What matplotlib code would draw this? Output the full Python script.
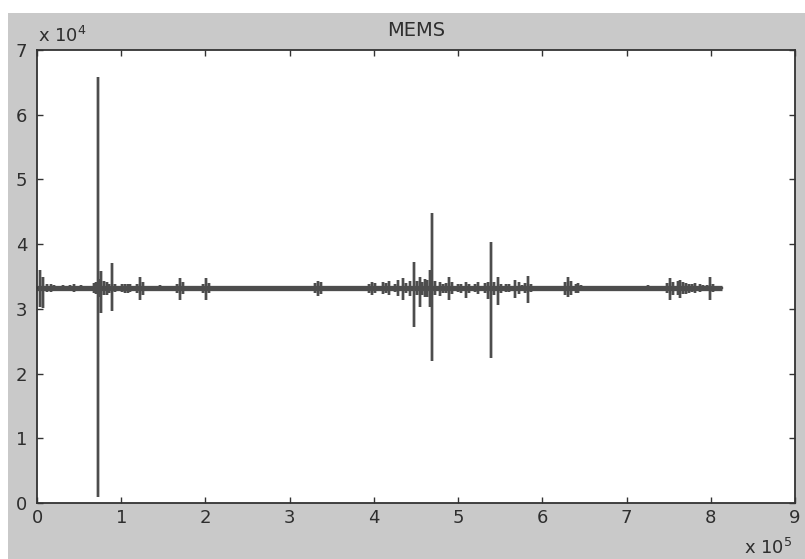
import matplotlib
matplotlib.use("Agg")
import matplotlib.pyplot as plt
from matplotlib.patches import Rectangle

plt.rcParams['font.family'] = ['DejaVu Sans']

# MEMS sensor trace: resting level plus short bursts (position, peak, trough)
base_level = 33200
trace_end = 813300
burst_pos = [3600, 7100, 16600, 27300, 39200, 48700, 67700, 72400, 76000, 83100,
             89100, 104500, 110400, 122300, 146000, 169800, 200700, 241000, 259000,
             333700, 397800, 414400, 425000, 434600, 443000, 447600, 454800, 460700,
             466600, 469000, 478500, 489200, 499900, 509400, 523600, 535500, 539100,
             547400, 556900, 567600, 575900, 583000, 630500, 642400, 653000, 725500,
             751600, 763500, 770600, 777700, 790800, 799100]
burst_high = [36000, 35000, 33800, 33600, 33700, 33600, 34000, 65800, 35800, 34200,
              37100, 33900, 33800, 34900, 33700, 34800, 34800, 33600, 33600,
              34300, 34200, 34000, 33900, 34800, 34300, 37200, 34900, 34600,
              36000, 44800, 34200, 34900, 33900, 34100, 34100, 34100, 40300,
              35000, 33800, 34400, 33700, 35100, 35000, 34000, 33400, 33700,
              34800, 34400, 34000, 33800, 33700, 34900]
burst_low = [30300, 30100, 32600, 32900, 32800, 32900, 32500, 900, 29400, 32200,
             29700, 32500, 32600, 31400, 32800, 31400, 31400, 33000, 33000,
             32000, 32100, 32400, 32600, 31400, 32000, 27200, 30300, 31800,
             30300, 22000, 32000, 31400, 32600, 31700, 32300, 31600, 22400,
             30600, 32600, 31700, 32800, 30900, 31800, 32400, 33000, 32800,
             31400, 31700, 32300, 32600, 32700, 31400]

# smaller ripples surrounding the bursts
ripple_pos = [12000, 20500, 31000, 43500, 52000, 70000, 74500, 79500, 86000, 93000,
              101000, 107500, 119000, 125500, 166500, 173000, 197500, 204000,
              330500, 337000, 394500, 401000, 411000, 418000, 428500, 438000,
              451000, 457500, 463500, 472000, 482000, 486000, 493000, 503000,
              513000, 520000, 532000, 543000, 551000, 560000, 572000, 580000,
              587000, 627500, 633500, 639500, 646000, 748500, 755000, 760500,
              767000, 774000, 781000, 787000, 795000, 803000]
ripple_high = [33800, 33700, 33700, 33800, 33700, 34100, 34600, 34300, 33900, 33800,
               33800, 33900, 33900, 34200, 33900, 34100, 33900, 34000,
               34000, 34100, 33900, 34000, 34100, 34300, 34400, 34000,
               34300, 34200, 34500, 34300, 33900, 34000, 34100, 33900,
               33900, 33800, 34000, 34200, 33900, 33800, 34100, 34000,
               33800, 34200, 34300, 33900, 33700, 34000, 34200, 34300,
               34100, 33900, 34000, 33800, 33700, 33800]
ripple_low = [32600, 32700, 32700, 32600, 32700, 32300, 31800, 32100, 32500, 32600,
              32600, 32500, 32500, 32200, 32500, 32300, 32500, 32400,
              32400, 32300, 32500, 32400, 32300, 32100, 32000, 32400,
              32100, 32200, 31900, 32100, 32500, 32400, 32300, 32500,
              32500, 32600, 32400, 32200, 32500, 32600, 32300, 32400,
              32600, 32200, 32100, 32500, 32700, 32400, 32200, 32100,
              32300, 32500, 32400, 32600, 32700, 32600]

events = sorted(zip(burst_pos + ripple_pos, burst_high + ripple_high,
                    burst_low + ripple_low))
xs = [0]
ys = [base_level]
for p, h, l in events:
    xs += [p, p, p, p]
    ys += [base_level, h, l, base_level]
xs.append(trace_end)
ys.append(base_level)

fig = plt.figure(figsize=(8.05, 5.59), dpi=100, facecolor='white')
fig.patches.append(Rectangle((8 / 805, 0), 1, (559 - 13) / 559,
                             transform=fig.transFigure, facecolor='#c9c9c9',
                             edgecolor='none', zorder=-10))

ax = fig.add_axes([37 / 805, 56 / 559, (795 - 37) / 805, (503 - 50) / 559])
ax.set_facecolor('white')

line_color = '#4d4d4d'
ax.plot(xs, ys, color=line_color, lw=1.7, solid_joinstyle='miter')
ax.plot([0, trace_end], [base_level, base_level], color=line_color, lw=3.8,
        solid_capstyle='butt')

ax.set_xlim(0, 900000)
ax.set_ylim(0, 70000)
ax.set_xticks([i * 100000 for i in range(10)])
ax.set_xticklabels([str(i) for i in range(10)])
ax.set_yticks([i * 10000 for i in range(8)])
ax.set_yticklabels([str(i) for i in range(8)])

ax.tick_params(direction='in', length=4, width=1, top=True, right=True,
               labelsize=13, labelcolor='#2e2e2e', color='#333333')
ax.tick_params(axis='x', pad=4)
ax.tick_params(axis='y', pad=7)
for s in ax.spines.values():
    s.set_color('#333333')
    s.set_linewidth(1.3)

ax.set_title('MEMS', fontsize=14, color='#2e2e2e', pad=10)
fig.text(38 / 805, 1 - 36 / 559, r'x 10$^{4}$', fontsize=13, color='#2e2e2e',
         ha='left', va='center')
fig.text(792 / 805, 1 - 548 / 559, r'x 10$^{5}$', fontsize=13, color='#2e2e2e',
         ha='right', va='center')

fig.savefig('out.png', dpi=100, facecolor=fig.get_facecolor())
